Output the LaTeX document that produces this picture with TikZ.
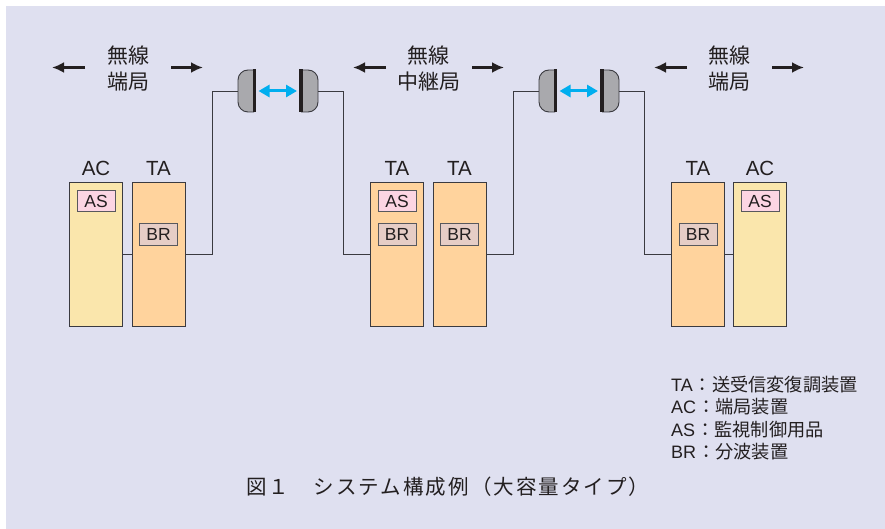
\documentclass[tikz,border=0pt]{standalone}
\usepackage{fontspec}
\setmainfont{Liberation Sans}
\newfontfamily\cjk{Noto Sans CJK JP}[Scale=1]
\usetikzlibrary{arrows.meta}
\definecolor{bgc}{HTML}{DFE0F0}
\definecolor{acc}{HTML}{FAE6AC}
\definecolor{tac}{HTML}{FFD39D}
\definecolor{asc}{HTML}{FCD5E3}
\definecolor{brc}{HTML}{E6CDC6}
\definecolor{linec}{HTML}{3A3A40}
\definecolor{dishc}{HTML}{A9A9AD}
\definecolor{bluec}{HTML}{00AEEF}
\definecolor{textc}{HTML}{231F20}
\tikzset{
  x=1pt,y=-1pt,
  unitbox/.style={draw=linec,line width=0.9pt,anchor=north west,inner sep=0pt,outer sep=0pt,minimum width=53pt,minimum height=144pt},
  acbox/.style={unitbox,fill=acc},
  tabox/.style={unitbox,fill=tac},
  subbox/.style={draw=linec!85,line width=1pt,inner sep=0pt,outer sep=0pt,minimum width=38pt,minimum height=21pt,font=\fontsize{17.5}{17.5}\selectfont,text=textc},
  asbox/.style={subbox,fill=asc},
  brbox/.style={subbox,fill=brc},
  wire/.style={draw=linec,line width=0.9pt},
  lbl/.style={font=\fontsize{20.5}{20.5}\selectfont,text=textc,inner sep=0pt},
  jp/.style={font=\cjk\fontsize{21}{26}\selectfont,text=textc,inner sep=0pt,align=center},
  side/.style={-{Latex[length=12pt,width=11pt]},line width=3pt,draw=textc},
  beam/.style={{Triangle[length=11pt,width=12pt]}-{Triangle[length=11pt,width=12pt]},line width=3pt,draw=bluec},
  dishbody/.style={fill=dishc,draw=linec,line width=0.9pt,rounded corners=10pt},
  dishbar/.style={fill=textc,draw=none},
  legend/.style={font=\fontsize{18}{22.5}\selectfont,text=textc,inner sep=0pt,align=left,anchor=north west},
}
\begin{document}
\begin{tikzpicture}
\useasboundingbox (0,0) rectangle (885,529);
\fill[white] (0,0) rectangle (885,529);
\fill[bgc] (6,6) rectangle (885,529);

% units
\node[acbox] (ac1) at (69.5,182.5) {};
\node[tabox] (ta1) at (132.5,182.5) {};
\node[tabox] (ta2) at (370.5,182.5) {};
\node[tabox] (ta3) at (433,182.5) {};
\node[tabox] (ta4) at (671,182.5) {};
\node[acbox] (ac2) at (733.5,182.5) {};

\node[asbox] (as1) at (96,201.5) {AS};
\node[brbox] (br1) at (158.5,234.5) {BR};
\node[asbox] (as2) at (397,201.5) {AS};
\node[brbox] (br2) at (397,234.5) {BR};
\node[brbox] (br3) at (459.5,234.5) {BR};
\node[brbox] (br4) at (698,234.5) {BR};
\node[asbox] (as3) at (760,201.5) {AS};

\node[lbl] (tac1) at (96,168) {AC};
\node[lbl] (tat1) at (158.5,168) {TA};
\node[lbl] (tat2) at (397,168) {TA};
\node[lbl] (tat3) at (459.5,168) {TA};
\node[lbl] (tat4) at (698,168) {TA};
\node[lbl] (tac2) at (760,168) {AC};

% dishes
\coordinate (d1) at (238,91);
\coordinate (d2) at (318,91);
\coordinate (d3) at (539,91);
\coordinate (d4) at (619,91);
\coordinate (b1l) at (258.5,91);
\coordinate (b1r) at (297,91);
\coordinate (b2l) at (559.5,91);
\coordinate (b2r) at (598,91);

\foreach \x in {238,539}{
  \draw[dishbody] (\x+16,70) -- (\x,70) -- (\x,112) -- (\x+16,112);
  \fill[dishbar] (\x+14.5,69.5) rectangle (\x+18,112.5);
}
\foreach \x in {318,619}{
  \draw[dishbody] (\x-17,70) -- (\x,70) -- (\x,112) -- (\x-17,112);
  \fill[dishbar] (\x-19,69.5) rectangle (\x-15.5,112.5);
}
\draw[beam] (b1l) -- (b1r);
\draw[beam] (b2l) -- (b2r);

% wires
\draw[wire] (ac1.east |- 0,254) -- (ta1.west |- 0,254);
\draw[wire] (ta1.east |- 0,254) -| (212,91) -- (d1);
\draw[wire] (d2) -| (343.5,254) -- (ta2.west |- 0,254);
\draw[wire] (ta3.east |- 0,254) -| (513,91) -- (d3);
\draw[wire] (d4) -| (644,254) -- (ta4.west |- 0,254);
\draw[wire] (ta4.east |- 0,254) -- (ac2.west |- 0,254);

% station labels
\node[jp] (s1) at (128,69) {無線\\端局};
\node[jp] (s2) at (428.5,69) {無線\\中継局};
\node[jp] (s3) at (729,69) {無線\\端局};

\coordinate (a1l) at (52,67.5); \coordinate (a1la) at (85,67.5);
\coordinate (a1r) at (171,67.5); \coordinate (a1ra) at (203,67.5);
\coordinate (a2l) at (353,67.5); \coordinate (a2la) at (386,67.5);
\coordinate (a2r) at (472,67.5); \coordinate (a2ra) at (504,67.5);
\coordinate (a3l) at (654,67.5); \coordinate (a3la) at (687,67.5);
\coordinate (a3r) at (772,67.5); \coordinate (a3ra) at (804,67.5);
\draw[side] (a1la) -- (a1l);
\draw[side] (a1r) -- (a1ra);
\draw[side] (a2la) -- (a2l);
\draw[side] (a2r) -- (a2ra);
\draw[side] (a3la) -- (a3l);
\draw[side] (a3r) -- (a3ra);

% legend
\node[legend] (leg) at (671,375.5) {TA\hspace{1pt}{\cjk\fontsize{18.2}{22.5}\selectfont ：送受信変復調装置}\\AC\hspace{1pt}{\cjk\fontsize{18.2}{22.5}\selectfont ：端局装置}\\AS\hspace{1pt}{\cjk\fontsize{18.2}{22.5}\selectfont ：監視制御用品}\\BR\hspace{1pt}{\cjk\fontsize{18.2}{22.5}\selectfont ：分波装置}};

% caption
\node[font=\cjk\fontsize{20.5}{20.5}\selectfont,text=textc,inner sep=0pt,anchor=west] (cap) at (246,487) {\addfontfeature{LetterSpace=10}図１　システム構成例（大容量タイプ）};
\end{tikzpicture}
\end{document}
